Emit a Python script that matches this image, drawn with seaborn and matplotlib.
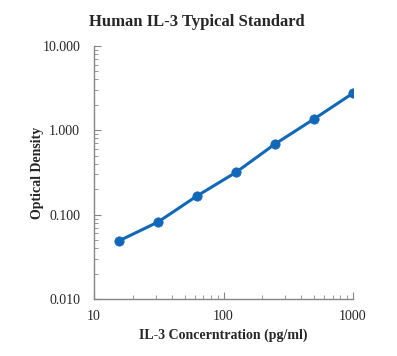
import matplotlib
matplotlib.use('Agg')
import matplotlib.pyplot as plt
import matplotlib.ticker as mticker
import pandas as pd
import seaborn as sns

# standard curve values
conc = [15.6, 31.25, 62.5, 125, 250, 500, 1000]
od = [0.049, 0.082, 0.167, 0.318, 0.688, 1.36, 2.75]
ytick_vals = [0.01, 0.1, 1, 10]
ytick_labels = ['0.010', '0.100', '1.000', '10.000']
xtick_vals = [10, 100, 1000]
xtick_labels = ['10', '100', '1000']

data = pd.DataFrame({'conc': conc, 'od': od})

sns.set_style('white')
plt.rcParams['font.family'] = ['Liberation Serif', 'DejaVu Serif']

fig = plt.figure(figsize=(3.97, 3.56), dpi=100)
ax = fig.add_axes([0.237, 0.160, 0.652, 0.711])

blue = '#1268b8'
sns.lineplot(data=data, x='conc', y='od', ax=ax, color=blue, linewidth=2.2)
sns.scatterplot(data=data, x='conc', y='od', ax=ax, color=blue, s=45,
                edgecolor=blue, zorder=3)

ax.set_xscale('log')
ax.set_yscale('log')
ax.set_xlim(10, 1000)
ax.set_ylim(0.01, 10)

ax.set_xticks(xtick_vals)
ax.set_xticklabels(xtick_labels)
ax.set_yticks(ytick_vals)
ax.set_yticklabels(ytick_labels)
ax.xaxis.set_minor_locator(mticker.LogLocator(base=10, subs=range(2, 10)))
ax.yaxis.set_minor_locator(mticker.LogLocator(base=10, subs=range(2, 10)))
ax.xaxis.set_minor_formatter(mticker.NullFormatter())
ax.yaxis.set_minor_formatter(mticker.NullFormatter())

grey = '#868686'
for s in ['top', 'right']:
    ax.spines[s].set_visible(False)
for s in ['left', 'bottom']:
    ax.spines[s].set_color(grey)
    ax.spines[s].set_linewidth(1)

ax.tick_params(which='major', direction='in', length=5, color=grey,
               labelsize=10, pad=10, left=True, bottom=True)
ax.tick_params(which='minor', direction='in', length=3, color=grey,
               left=True, bottom=True)
ax.tick_params(axis='x', which='major', pad=8)

ax.set_xlabel('IL-3 Concerntration (pg/ml)', fontsize=10, fontweight='bold', labelpad=4)
ax.set_ylabel('Optical Density', fontsize=10, fontweight='bold', labelpad=-1)
fig.suptitle('Human IL-3 Typical Standard', fontsize=12, fontweight='bold',
             x=0.497, y=0.96)

fig.savefig('out.png', dpi=100)
